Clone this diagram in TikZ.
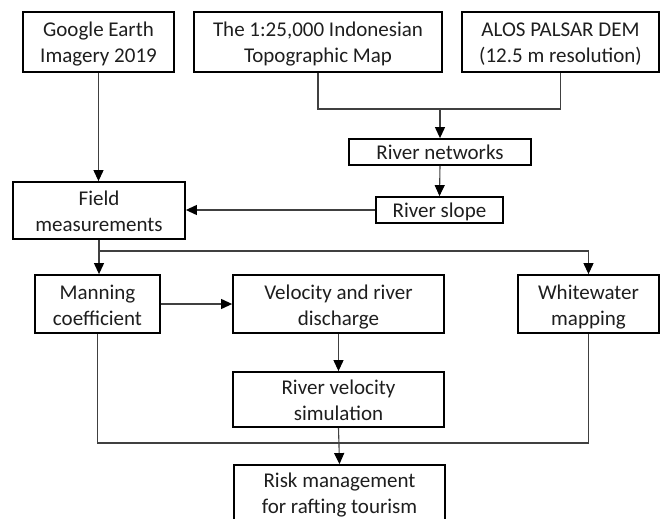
\documentclass[tikz,border=0pt]{standalone}
\usepackage{fontspec}
\setmainfont{Carlito}
\usetikzlibrary{arrows.meta}
\definecolor{txt}{HTML}{1E1E1E}
\definecolor{ln}{HTML}{404040}
\newcommand\lnstrut{\rule[-5pt]{0pt}{26pt}}
\newcommand\twolines[2]{\lnstrut #1\\\lnstrut #2}
\tikzset{
  box/.style={draw=black, line width=1.8pt, rectangle, inner sep=0pt, align=center,
    text=txt, font=\fontsize{21}{26}\selectfont},
  conn/.style={draw=ln, line width=1.1pt},
  arr/.style={conn, -{Triangle[length=11pt,width=10pt,color=black]}},
}
\begin{document}
\begin{tikzpicture}[x=1pt,y=-1pt]
\useasboundingbox (0,0) rectangle (665,519);
\node[box, minimum width=151pt, minimum height=60pt] (ge) at (98.5,42) {\twolines{Google Earth}{Imagery 2019}};
\node[box, minimum width=248pt, minimum height=60pt] (topo) at (318,42) {\twolines{The 1:25,000 Indonesian}{Topographic Map}};
\node[box, minimum width=197pt, minimum height=60pt] (alos) at (560.5,42) {\twolines{ALOS PALSAR DEM}{(12.5 m resolution)}};
\node[box, minimum width=182pt, minimum height=24pt] (rn) at (440,152) {\lnstrut River networks};
\node[box, minimum width=127pt, minimum height=24pt] (rs) at (439.5,210) {\lnstrut River slope};
\node[box, minimum width=172pt, minimum height=57pt] (fm) at (99,210.5) {\twolines{Field}{measurements}};
\node[box, minimum width=125pt, minimum height=58pt] (mc) at (97.5,304) {\twolines{Manning}{coefficient}};
\node[box, minimum width=211pt, minimum height=58pt] (vd) at (338.5,304) {\twolines{Velocity and river}{discharge}};
\node[box, minimum width=141pt, minimum height=58pt] (wm) at (588.5,304) {\twolines{Whitewater}{mapping}};
\node[box, minimum width=211pt, minimum height=55pt] (rv) at (338.5,399.5) {\twolines{River velocity}{simulation}};
\node[box, minimum width=211pt, minimum height=60pt] (rm) at (339.5,495) {\lnstrut Risk management\\\rule[-10pt]{0pt}{26pt}for rafting tourism};
\coordinate (j1) at (440,109);
\coordinate (j2) at (99,251);
\coordinate (j3) at (338.5,443);
% top
\draw[arr] (ge.south) -- (ge.south |- fm.north);
\draw[conn] (topo.south) |- (j1) -| (alos.south);
\draw[arr] (j1) -- (rn.north);
\draw[arr] (rn.south) -- (rs.north);
\draw[arr] (rs.west) -- (rs.west -| fm.east);
% field measurements branch
\draw[arr] (fm.south) -- (fm.south |- mc.north);
\draw[arr] (j2) -| (wm.north);
\draw[arr] (mc.east) -- (mc.east -| vd.west);
\draw[arr] (vd.south) -- (rv.north);
% bottom merge
\draw[conn] (mc.south) -- (mc.south |- j3) -- (wm.south |- j3) -- (wm.south);
\draw[arr] (rv.south) -- (rm.north);
\end{tikzpicture}
\end{document}
